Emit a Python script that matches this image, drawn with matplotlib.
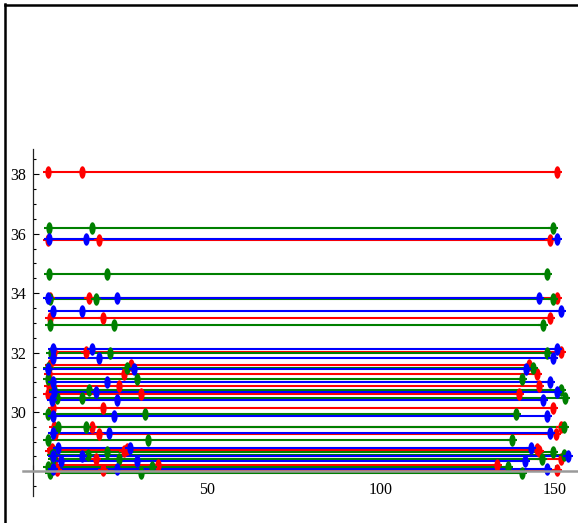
import numpy as np
import matplotlib
matplotlib.use("Agg")
import matplotlib.pyplot as plt
from matplotlib.path import Path
from matplotlib.lines import Line2D
from matplotlib.ticker import FixedLocator, FixedFormatter, MultipleLocator

# Each horizontal segment: level, start, middle and end positions
red_y = [38.09, 35.79, 33.85, 33.15, 32.02, 31.58, 31.27, 30.88, 30.59, 30.12,
         29.50, 29.25, 28.75, 28.68, 28.43, 28.21, 28.03]
red_start = [4.3, 4.5, 5.0, 5.0, 6.1, 5.0, 4.8, 4.8, 4.5, 5.9,
             6.1, 6.4, 5.5, 5.0, 6.4, 5.8, 7.0]
red_mid = [14.1, 19.0, 16.1, 20.1, 15.2, 28.2, 26.2, 24.9, 31.1, 20.1,
           17.0, 19.1, 27.0, 26.2, 18.2, 36.1, 20.1]
red_end = [150.6, 148.6, 150.7, 148.6, 151.7, 142.7, 144.8, 145.6, 139.8, 149.4,
           151.8, 150.5, 144.8, 145.6, 151.8, 133.5, 150.7]

green_y = [36.19, 34.64, 33.80, 32.93, 31.99, 31.49, 31.11, 30.75, 30.48, 29.92,
           29.48, 29.07, 28.64, 28.55, 28.40, 28.16, 27.94]
green_start = [4.6, 4.6, 5.0, 5.0, 5.2, 4.4, 4.5, 6.1, 6.9, 4.5,
               7.2, 4.5, 6.4, 5.5, 5.8, 4.4, 5.1]
green_mid = [17.0, 21.3, 18.2, 23.3, 22.1, 27.0, 29.9, 16.2, 14.1, 32.3,
             15.3, 33.0, 21.3, 16.0, 24.9, 34.2, 31.0]
green_end = [149.4, 147.7, 149.4, 146.5, 147.7, 143.7, 140.7, 151.7, 152.9, 138.8,
             152.8, 137.7, 149.4, 152.8, 146.4, 136.6, 140.7]

blue_y = [35.82, 33.85, 33.39, 32.13, 31.80, 31.44, 31.02, 30.66, 30.40, 29.85,
          29.28, 28.80, 28.50, 28.35, 28.09]
blue_start = [4.8, 4.3, 5.7, 5.7, 5.7, 4.5, 5.7, 6.1, 5.5, 5.7,
              5.7, 7.3, 5.8, 8.0, 5.8]
blue_mid = [15.2, 24.1, 14.1, 17.0, 19.1, 29.0, 21.3, 18.1, 24.1, 23.4,
            22.0, 28.0, 14.1, 30.1, 24.1]
blue_end = [150.6, 145.6, 151.7, 150.6, 149.4, 141.7, 148.6, 150.7, 146.5, 147.7,
            148.6, 143.2, 153.7, 141.6, 147.7]

y_ticks = [28, 30, 32, 34, 36, 38]
y_tick_labels = ["", "30", "32", "34", "36", "38"]
x_ticks = [0, 50, 100, 150]
x_tick_labels = ["", "50", "100", "150"]

W, H = 578, 523
fig = plt.figure(figsize=(W / 100, H / 100), dpi=100)
fig.patch.set_facecolor("white")

ax_l, ax_r, ax_top, ax_bot = 23, 578, 149, 496
ax = fig.add_axes([ax_l / W, 1 - ax_bot / H, (ax_r - ax_l) / W, (ax_bot - ax_top) / H])
ax.set_xlim(-2.8, 156.7)
ax.set_ylim(27.17, 38.85)
ax.patch.set_alpha(0)

# vertical lens-shaped point marker
t = np.linspace(0, 2 * np.pi, 41)
lens = Path(np.column_stack([0.5 * np.cos(t), np.sin(t)]), closed=True)

series = [
    ("#ff0000", red_y, red_start, red_mid, red_end),
    ("#008000", green_y, green_start, green_mid, green_end),
    ("#0000ff", blue_y, blue_start, blue_mid, blue_end),
]

for color, ys, s0, s1, s2 in series:
    for y, a, b, c in zip(ys, s0, s1, s2):
        xs = [a, b, c]
        ax.plot(xs, [y] * 3, color=color, lw=1.5, solid_capstyle="butt", zorder=2)
        ax.plot(xs, [y] * 3, ls="none", marker="_", ms=7, mew=1.5, color=color, zorder=3)
        ax.plot(xs, [y] * 3, ls="none", marker=lens, ms=9, mew=0, color=color, zorder=3)

for side in ("top", "right"):
    ax.spines[side].set_visible(False)
ax.spines["left"].set_position(("data", 0))
ax.spines["bottom"].set_position(("data", 28))
ax.spines["left"].set_color("#222222")
ax.spines["left"].set_linewidth(0.9)
ax.spines["bottom"].set_color("#9a9a9a")
ax.spines["bottom"].set_linewidth(1.8)
ax.spines["left"].set_zorder(4)
ax.spines["bottom"].set_zorder(4)

serif = "Liberation Serif"
ax.yaxis.set_major_locator(FixedLocator(y_ticks))
ax.yaxis.set_major_formatter(FixedFormatter(y_tick_labels))
ax.yaxis.set_minor_locator(MultipleLocator(0.5))
ax.xaxis.set_major_locator(FixedLocator(x_ticks))
ax.xaxis.set_major_formatter(FixedFormatter(x_tick_labels))
ax.xaxis.set_minor_locator(MultipleLocator(10))

ax.tick_params(axis="both", which="both", direction="in", color="black", width=0.8)
ax.tick_params(axis="both", which="major", length=4)
ax.tick_params(axis="both", which="minor", length=2.5)
ax.tick_params(axis="y", which="major", pad=5)
ax.tick_params(axis="x", which="major", pad=8)
for lab in ax.get_xticklabels() + ax.get_yticklabels():
    lab.set_fontfamily(serif)
    lab.set_fontsize(11.5)

# outer frame on the top and left edges
fig.add_artist(Line2D([5 / W, 5 / W], [0, 1 - 4 / H], color="black", lw=1.8,
                      transform=fig.transFigure))
fig.add_artist(Line2D([5 / W, 1], [1 - 5 / H, 1 - 5 / H], color="black", lw=1.8,
                      transform=fig.transFigure))

fig.savefig("out.png", dpi=100)
